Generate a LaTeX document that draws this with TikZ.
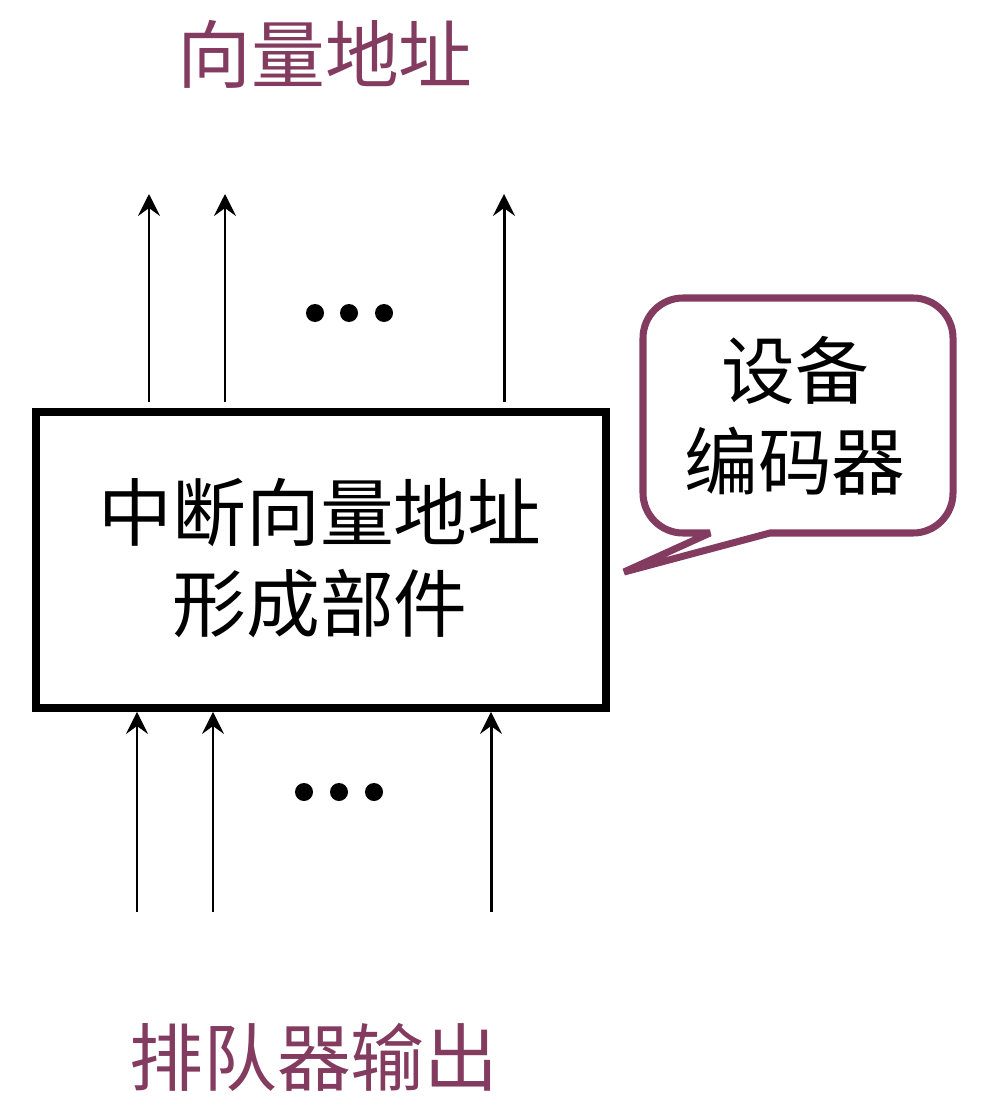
\documentclass[tikz,border=0pt]{standalone}
\usepackage{fontspec}
\newfontfamily\cjk{Noto Sans CJK SC}
\usetikzlibrary{arrows.meta}
\definecolor{plum}{HTML}{843B60}
\begin{document}
\begin{tikzpicture}[x=0.2mm,y=-0.2mm,
  lbl/.style={font=\cjk\fontsize{42}{52}\selectfont, inner sep=0pt, align=center},
  sig/.style={line width=1.7pt, -{Stealth[length=12.5pt,width=12.5pt,inset=4.5pt]}},
  unit/.style={draw, line width=4.5pt, minimum width=114mm, minimum height=59.2mm, inner sep=0pt},
  callout/.style={draw=plum, line width=4pt, line join=miter, miter limit=4, fill=white},
  dotmark/.style={fill=black}]
\fill[white] (0,0) rectangle (980,1116);
\useasboundingbox (0,0) rectangle (980,1116);

% titles
\node[lbl, text=plum] (title) at (325,54) {向量地址};
\node[lbl, text=plum] (queue) at (314,1057) {排队器输出};

% main unit
\node[unit] (box) at (321,560) {};
\node[lbl] (boxtext) at (320,558) {中断向量地址\\形成部件};

% top outputs
\coordinate (ts1) at (149,402); \coordinate (te1) at (149,194);
\coordinate (ts2) at (225,402); \coordinate (te2) at (225,194);
\coordinate (ts3) at (504,402); \coordinate (te3) at (504,194);
\draw[sig] (ts1) -- (te1);
\draw[sig] (ts2) -- (te2);
\draw[sig] (ts3) -- (te3);

% bottom inputs
\coordinate (bs1) at (137,912);
\coordinate (bs2) at (213,912);
\coordinate (bs3) at (491,912);
\draw[sig] (bs1) -- (box.south -| bs1);
\draw[sig] (bs2) -- (box.south -| bs2);
\draw[sig] (bs3) -- (box.south -| bs3);

% ellipsis dots
\fill[dotmark] (315,313) circle (9);
\fill[dotmark] (349,313) circle (9);
\fill[dotmark] (384,313) circle (9);
\fill[dotmark] (304,792) circle (9);
\fill[dotmark] (339,792) circle (9);
\fill[dotmark] (374,792) circle (9);

% callout
\draw[callout] (710,533) -- (683,533)
  arc[start angle=90, end angle=180, radius=40] -- (643,338)
  arc[start angle=180, end angle=270, radius=40] -- (913,298)
  arc[start angle=270, end angle=360, radius=40] -- (953,493)
  arc[start angle=0, end angle=90, radius=40] -- (770,533)
  -- (624,572) -- cycle;
\node[lbl] (note) at (795,416) {设备\\编码器};
\end{tikzpicture}
\end{document}
